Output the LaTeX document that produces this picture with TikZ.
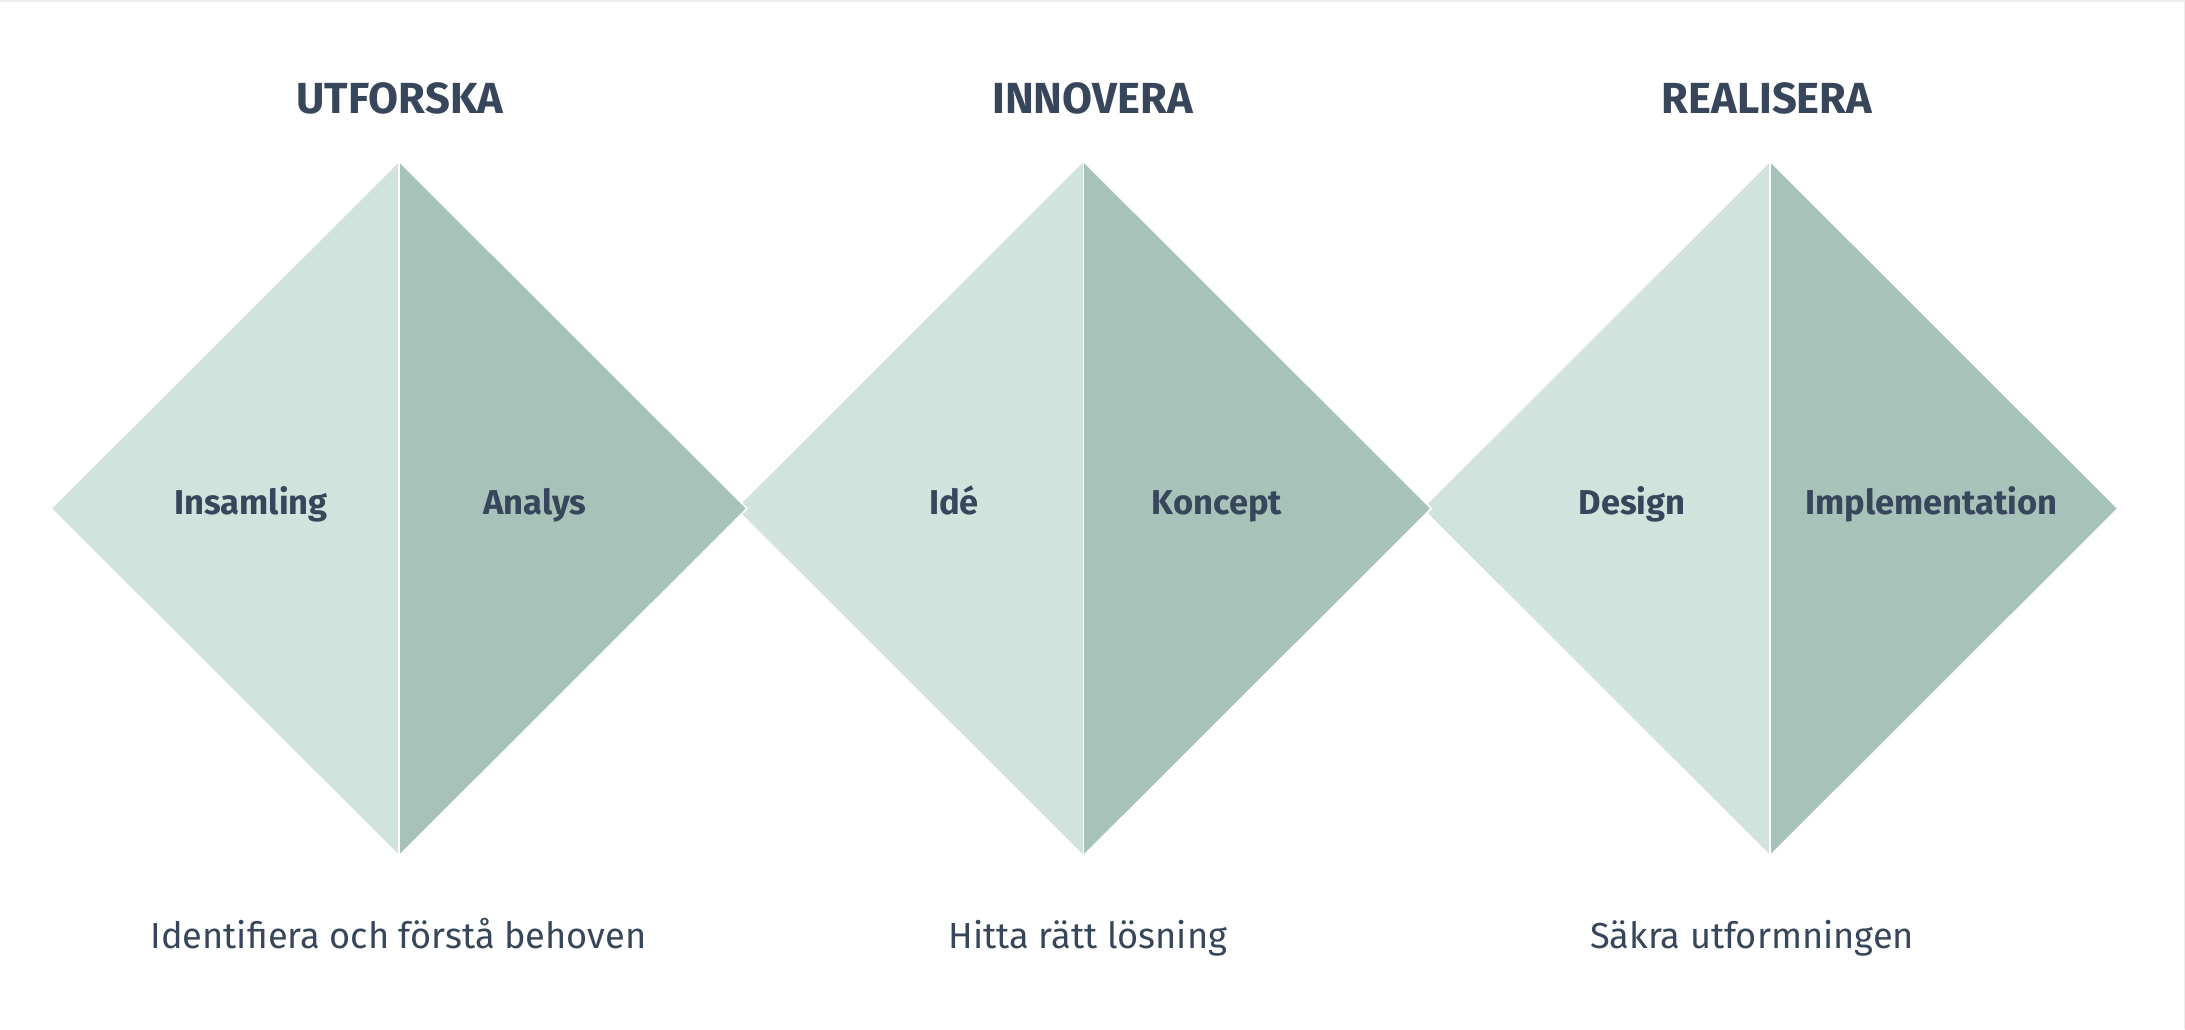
\documentclass[tikz,border=0pt]{standalone}
\usepackage{fontspec}
\setmainfont{Fira Sans}
\definecolor{lightg}{HTML}{D1E3DD}
\definecolor{darkg}{HTML}{A7C3B9}
\definecolor{ink}{HTML}{37465A}
\definecolor{edge}{HTML}{ECECEC}
\begin{document}
\begin{tikzpicture}[x=1pt,y=-1pt,
  title/.style={anchor=base, text=ink, font=\fontsize{43.5}{52}\selectfont\bfseries, inner sep=0pt},
  lab/.style={anchor=base, text=ink, font=\fontsize{34.5}{41}\selectfont\bfseries, inner sep=0pt},
  sub/.style={anchor=base, text=ink, font=\fontsize{36.2}{43}\selectfont, inner sep=0pt},
  rim/.style={draw=white, line width=1.6pt, line join=miter}]
\useasboundingbox (0,0) rectangle (2185,1029);
\fill[white] (0,0) rectangle (2185,1029);
\draw[edge, line width=1.5pt] (0,0.75) -- (2184.25,0.75) -- (2184.25,1029);
\foreach \cx/\n in {1770/c, 1083.3/b, 399/a} {
  \coordinate (\n T) at (\cx,161);
  \coordinate (\n B) at (\cx,856);
  \coordinate (\n L) at ({\cx-348},508.5);
  \coordinate (\n R) at ({\cx+348},508.5);
  \fill[lightg] (\n T) -- (\n L) -- (\n B) -- cycle;
  \fill[darkg] (\n T) -- (\n R) -- (\n B) -- cycle;
  \draw[rim] (\n T) -- (\n L) -- (\n B) -- (\n R) -- cycle;
  \draw[draw=white, line width=1.4pt] (\n T) -- (\n B);
}
\node[title] (t1) at (400,113) {UTFORSKA};
\node[title] (t2) at (1092.5,113) {INNOVERA};
\node[title] (t3) at (1767,113) {REALISERA};
\node[lab] (l1) at (251,514) {Insamling};
\node[lab] (l2) at (535,514) {Analys};
\node[lab] (l3) at (954,514) {Idé};
\node[lab] (l4) at (1217,514) {Koncept};
\node[lab] (l5) at (1632,514) {Design};
\node[lab] (l6) at (1931.5,514) {Implementation};
\node[sub] (s1) at (398.5,948) {Identifiera och förstå behoven};
\node[sub] (s2) at (1088,948) {Hitta rätt lösning};
\node[sub] (s3) at (1752,948) {Säkra utformningen};
\end{tikzpicture}
\end{document}
